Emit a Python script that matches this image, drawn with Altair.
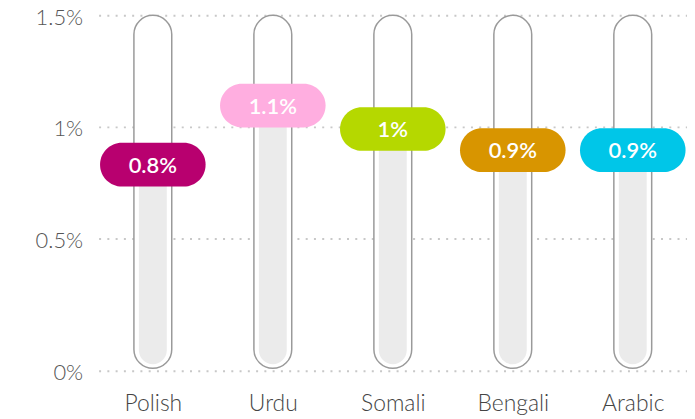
import altair as alt
import pandas as pd

languages = ["Polish", "Urdu", "Somali", "Bengali", "Arabic"]
values = [0.83, 1.095, 0.99, 0.895, 0.895]
labels = ["0.8%", "1.1%", "1%", "0.9%", "0.9%"]
colors = ["#b8006f", "#ffaee0", "#b5d800", "#d89500", "#00c6e8"]

df = pd.DataFrame({"lang": languages, "value": values, "label": labels, "color": colors})

Y0 = -0.096
yscale = alt.Scale(domain=[Y0, 1.5], nice=False, zero=False)
xscale = alt.Scale(type="point", padding=0.452, domain=languages)

x_enc = alt.X("lang:N", scale=xscale, sort=languages, title=None,
              axis=alt.Axis(labelFont="Lato", labelFontSize=23, labelFontWeight=300,
                            labelColor="#444444",
                            labelPadding=22, ticks=False, tickSize=0, domain=False, grid=False,
                            labelAngle=0))

base = alt.Chart(df)

capsule = base.transform_calculate(lo="-0.084", hi="1.5").mark_bar(
    width=38, cornerRadius=19, fill="white", stroke="#9a9a9a", strokeWidth=1.5
).encode(
    x=x_enc,
    y=alt.Y("lo:Q", scale=yscale, title=None,
            axis=alt.Axis(values=[Y0, 0.5, 1.0, 1.5],
                          labelExpr="datum.value < 0 ? '0%' : datum.value + '%'",
                          labelFont="Lato", labelFontSize=22, labelFontWeight=300,
                          labelColor="#555555", labelOffset=2,
                          labelPadding=16, ticks=False, tickSize=0, domain=False,
                          grid=True, gridColor="#c8c8c8", gridWidth=2, gridDash=[2, 6.3])),
    y2="hi:Q",
)

fill = base.transform_calculate(lo="-0.066").mark_bar(
    width=28, cornerRadius=14, fill="#ebebeb"
).encode(x=x_enc, y=alt.Y("lo:Q", scale=yscale), y2="value:Q")

pill = base.transform_calculate(lo="datum.value - 0.098", hi="datum.value + 0.098").mark_bar(
    width=106, cornerRadius=22
).encode(
    x=x_enc,
    y=alt.Y("lo:Q", scale=yscale),
    y2="hi:Q",
    color=alt.Color("color:N", scale=None, legend=None),
)

text = base.mark_text(font="Lato", fontSize=22, fontWeight=600, color="white",
                      baseline="middle", dy=1).encode(
    x=x_enc, y=alt.Y("value:Q", scale=yscale), text="label:N"
)

chart = alt.layer(capsule, fill, pill, text).properties(
    width=591, height=357.2,
    autosize=alt.AutoSizeParams(type="none"),
    padding={"left": 91, "top": 6.5, "right": 0, "bottom": 47},
).configure_view(stroke=None)

chart.save("out.html", embed_options={"renderer": "svg", "actions": False})
